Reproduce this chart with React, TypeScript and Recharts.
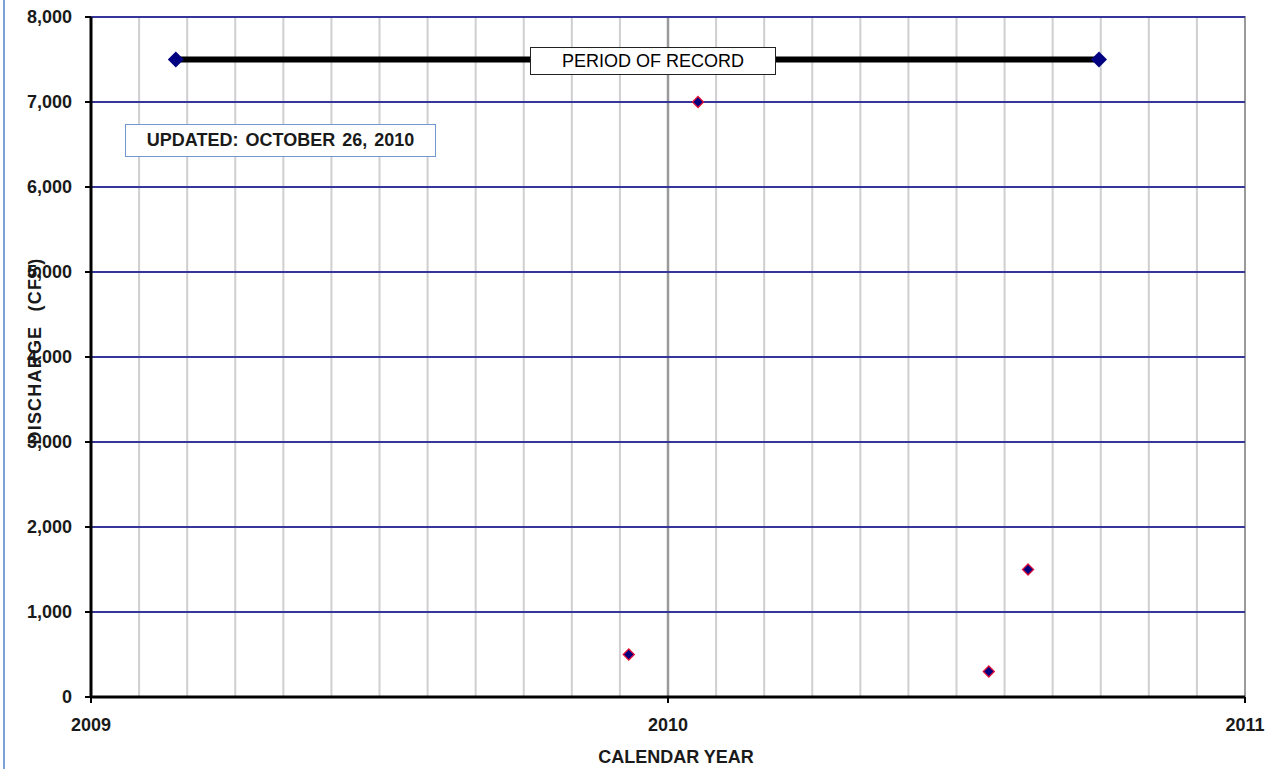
import {
  ScatterChart,
  Scatter,
  XAxis,
  YAxis,
  ReferenceLine,
  ReferenceArea,
} from 'recharts';

// decimal calendar years
const periodOfRecord = [
  { x: 2009.147, y: 7500 },
  { x: 2010.747, y: 7500 },
];

const measurements = [
  { x: 2009.932, y: 500 },
  { x: 2010.052, y: 7000 },
  { x: 2010.556, y: 300 },
  { x: 2010.624, y: 1500 },
];

const yearTicks = [2009, 2010, 2011];
const dischargeTicks = [0, 1000, 2000, 3000, 4000, 5000, 6000, 7000, 8000];
// monthly grid lines, every month except the year boundaries
const monthLines = Array.from({ length: 23 }, (_, i) => 2009 + (i + 1) / 12).filter(
  (m) => Math.abs(m - 2010) > 0.001
);

const FONT = '"Liberation Sans", Arial, sans-serif';
const NAVY = '#000080';
const GRID_BLUE = '#35359a';

const Diamond = ({ cx, cy, r, fill, stroke }: any) => {
  if (cx == null || cy == null) return null;
  return (
    <path
      d={`M${cx},${cy - r}L${cx + r},${cy}L${cx},${cy + r}L${cx - r},${cy}Z`}
      fill={fill}
      stroke={stroke}
      strokeWidth={stroke ? 1.3 : 0}
    />
  );
};

const tickStyle = { fontFamily: FONT, fontSize: 18, fontWeight: 700, fill: '#1a1a1a' };

export default function App() {
  return (
    <div
      style={{
        position: 'absolute',
        left: 0,
        top: 0,
        width: 1278,
        height: 769,
        background: '#fff',
        overflow: 'hidden',
        fontFamily: FONT,
      }}
    >
      <div style={{ position: 'absolute', left: 3, top: 0, width: 2, height: 769, background: '#7ba2d6' }} />
      <ScatterChart width={1278} height={769} margin={{ top: 17, right: 33, left: 0, bottom: 0 }}>
        <XAxis
          type="number"
          dataKey="x"
          domain={[2009, 2011]}
          ticks={yearTicks}
          interval={0}
          allowDataOverflow
          axisLine={{ stroke: '#000', strokeWidth: 3 }}
          tickLine={{ stroke: '#000', strokeWidth: 2 }}
          tickSize={6}
          tickMargin={15}
          tick={tickStyle}
          height={72}
          label={{
            value: 'CALENDAR YEAR',
            position: 'insideBottom',
            offset: 6,
            dx: 8,
            style: { fontFamily: FONT, fontSize: 18, fontWeight: 700, fill: '#1a1a1a' },
          }}
        />
        <YAxis
          type="number"
          dataKey="y"
          domain={[0, 8000]}
          ticks={dischargeTicks}
          interval={0}
          allowDataOverflow
          tickFormatter={(v: number) => v.toLocaleString('en-US')}
          axisLine={{ stroke: '#000', strokeWidth: 3 }}
          tickLine={{ stroke: '#000', strokeWidth: 2 }}
          tickSize={6}
          tickMargin={13}
          tick={tickStyle}
          width={91}
        />
        <ReferenceArea
          x1={2009}
          x2={2011}
          y1={0}
          y2={8000}
          fill="none"
          stroke="#9a9a9a"
          strokeWidth={2}
          ifOverflow="visible"
        />
        {monthLines.map((m) => (
          <ReferenceLine key={`m-${m}`} x={m} stroke="#cfcfcf" strokeWidth={2} />
        ))}
        <ReferenceLine x={2010} stroke="#9a9a9a" strokeWidth={2.5} />
        {dischargeTicks
          .filter((t) => t > 0)
          .map((t) => (
            <ReferenceLine key={`h-${t}`} y={t} stroke={GRID_BLUE} strokeWidth={2} ifOverflow="visible" />
          ))}
        <Scatter
          data={periodOfRecord}
          line={{ stroke: '#000', strokeWidth: 6 }}
          shape={(p: any) => <Diamond {...p} r={8} fill={NAVY} />}
          isAnimationActive={false}
        />
        <Scatter
          data={measurements}
          shape={(p: any) => <Diamond {...p} r={5.5} fill={NAVY} stroke="#e0103a" />}
          isAnimationActive={false}
        />
      </ScatterChart>

      <div
        style={{
          position: 'absolute',
          left: 35,
          top: 351,
          transform: 'translate(-50%, -50%) rotate(-90deg)',
          whiteSpace: 'nowrap',
          fontSize: 18,
          fontWeight: 700,
          color: '#1a1a1a',
          letterSpacing: 1.2,
          wordSpacing: 8,
        }}
      >
        DISCHARGE (CFS)
      </div>

      <div
        style={{
          position: 'absolute',
          left: 530,
          top: 47,
          width: 246,
          height: 28,
          boxSizing: 'border-box',
          border: '1.5px solid #222',
          background: '#fff',
          display: 'flex',
          alignItems: 'center',
          justifyContent: 'center',
          fontSize: 18,
          color: '#000',
        }}
      >
        PERIOD OF RECORD
      </div>

      <div
        style={{
          position: 'absolute',
          left: 125,
          top: 124,
          width: 311,
          height: 33,
          boxSizing: 'border-box',
          border: '1.5px solid #6f98cf',
          background: '#fff',
          display: 'flex',
          alignItems: 'center',
          justifyContent: 'center',
          fontSize: 18,
          fontWeight: 700,
          color: '#1a1a1a',
          wordSpacing: 2,
        }}
      >
        UPDATED: OCTOBER 26, 2010
      </div>
    </div>
  );
}
